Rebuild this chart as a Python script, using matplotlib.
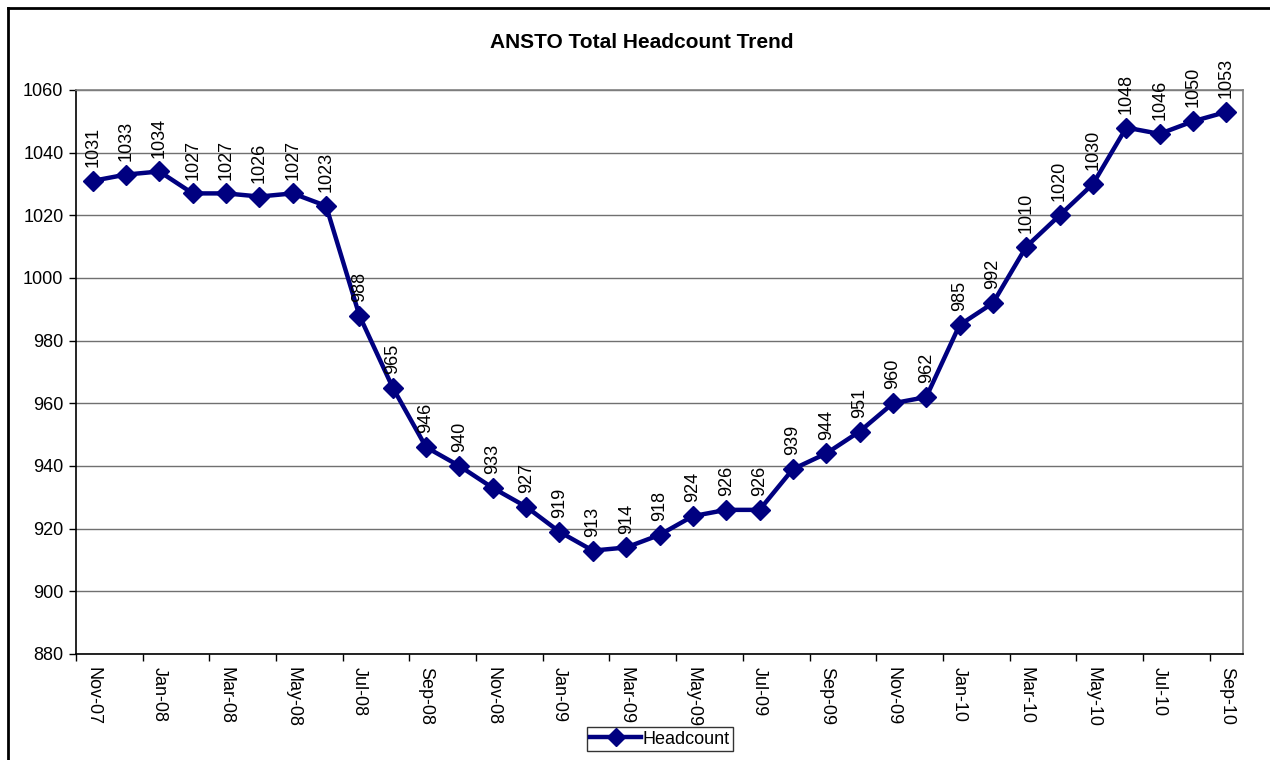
import numpy as np
import matplotlib.pyplot as plt
from matplotlib.lines import Line2D

plt.rcParams["font.family"] = ["Liberation Sans", "DejaVu Sans"]

months = ["Nov-07", "Dec-07", "Jan-08", "Feb-08", "Mar-08", "Apr-08", "May-08",
          "Jun-08", "Jul-08", "Aug-08", "Sep-08", "Oct-08", "Nov-08", "Dec-08",
          "Jan-09", "Feb-09", "Mar-09", "Apr-09", "May-09", "Jun-09", "Jul-09",
          "Aug-09", "Sep-09", "Oct-09", "Nov-09", "Dec-09", "Jan-10", "Feb-10",
          "Mar-10", "Apr-10", "May-10", "Jun-10", "Jul-10", "Aug-10", "Sep-10"]
headcount = [1031, 1033, 1034, 1027, 1027, 1026, 1027, 1023, 988, 965, 946, 940,
             933, 927, 919, 913, 914, 918, 924, 926, 926, 939, 944, 951, 960, 962,
             985, 992, 1010, 1020, 1030, 1048, 1046, 1050, 1053]
y_ticks = [880, 900, 920, 940, 960, 980, 1000, 1020, 1040, 1060]

W, H = 1270, 760
fig = plt.figure(figsize=(W / 100, H / 100), dpi=100)
ax = fig.add_axes([76 / W, 1 - 654 / H, (1243 - 76) / W, (654 - 90) / H])

x = np.arange(len(headcount))
navy = "#000080"
ax.plot(x, headcount, color=navy, lw=3.2, marker="D", ms=10.5, mfc=navy, mec=navy,
        label="Headcount", zorder=3)
for xi, v in zip(x, headcount):
    ax.annotate(str(v), (xi, v), xytext=(0, 10), textcoords="offset points",
                rotation=90, ha="center", va="bottom", fontsize=13,
                annotation_clip=False)

ax.set_xlim(-0.5, len(headcount) - 0.5)
ax.set_ylim(880, 1060)
ax.set_yticks(y_ticks)
ax.tick_params(axis="y", labelsize=13, length=5, width=1, pad=4, direction="out")
ax.yaxis.grid(True, color="#707070", lw=1)
ax.set_axisbelow(True)

# ticks between categories, labels at every second category
ax.set_xticks(np.arange(-0.5, len(headcount) - 0.5, 2))
ax.set_xticklabels([])
ax.set_xticks(x[::2], minor=True)
ax.set_xticklabels(months[::2], minor=True, rotation=-90, fontsize=13, va="top")
ax.tick_params(axis="x", which="major", length=5, width=1, direction="out")
ax.tick_params(axis="x", which="minor", length=0, pad=9.5)

for s in ["left", "bottom"]:
    ax.spines[s].set_color("black")
    ax.spines[s].set_linewidth(1.2)
for s in ["right", "top"]:
    ax.spines[s].set_color("#808080")
    ax.spines[s].set_linewidth(1.2)

fig.text(642 / W, 1 - 42 / H, "ANSTO Total Headcount Trend", ha="center",
         va="center", fontsize=15, fontweight="bold")

leg = fig.legend(loc="center", bbox_to_anchor=(660 / W, 1 - 739 / H), fontsize=13,
                 frameon=True, fancybox=False, edgecolor="black", handlelength=2.8,
                 handletextpad=0.1, borderpad=0.2, borderaxespad=0, markerscale=0.85)
leg.get_frame().set_linewidth(1)

# chart area border (left and top visible)
fig.add_artist(Line2D([8 / W, 8 / W], [0, 1 - 8 / H], color="black", lw=2))
fig.add_artist(Line2D([8 / W, 1], [1 - 8 / H, 1 - 8 / H], color="black", lw=2))

fig.savefig("out.png", dpi=100)
